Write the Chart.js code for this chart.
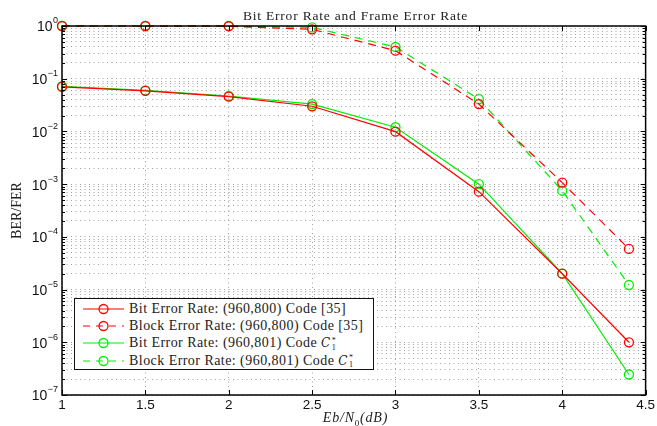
<!DOCTYPE html>
<html>
<head>
<meta charset="utf-8">
<script src="https://cdn.jsdelivr.net/npm/chart.js@4/dist/chart.umd.min.js"></script>
<style>
  body { margin: 0; background: #fff; }
  #wrap { position: relative; width: 657px; height: 426px; }
  .serif { font-family: "Liberation Serif", "DejaVu Serif", serif; color: #222; }
  #title {
    position: absolute; left: 62px; width: 587px; top: 8px; text-align: center;
    font-size: 13.5px; letter-spacing: 0.8px; line-height: 16px;
  }
  #xtitle {
    position: absolute; left: 62px; width: 587px; top: 410px; text-align: center;
    font-size: 14px; letter-spacing: 0.8px; line-height: 16px; font-style: italic;
  }
  #xtitle sub { font-style: normal; font-size: 9px; line-height: 0; }
  #legend {
    position: absolute; left: 74px; top: 298px; width: 300px; height: 72px;
    background: #fff; border: 1.5px solid #111; box-sizing: border-box;
    font-size: 14px; letter-spacing: 0.45px;
    padding-top: 1px;
  }
  .row { height: 17.3px; display: flex; align-items: center; white-space: nowrap; }
  .row svg { margin-left: 8px; margin-right: 5px; flex: none; }
  .cal { font-style: italic; font-family: "DejaVu Serif", serif; font-size: 12px; }
  .ss { display: inline-flex; flex-direction: column; font-size: 8px; line-height: 7px;
        vertical-align: middle; margin-left: 1px; letter-spacing: 0; }
</style>
</head>
<body>
<div id="wrap">
  <canvas id="chart" width="657" height="426"></canvas>
  <div id="title" class="serif">Bit Error Rate and Frame Error Rate</div>
  <div id="xtitle" class="serif">Eb/N<sub>0</sub>(dB)</div>
  <div id="legend" class="serif"></div>
</div>
<script>
const snr = [1, 1.5, 2, 2.5, 3, 3.5, 4, 4.4];
const berRef = [0.07, 0.059, 0.0457, 0.030, 0.0099, 7.2e-4, 2.0e-5, 1.0e-6];
const ferRef = [1, 1, 0.99, 0.865, 0.34, 0.033, 1.07e-3, 5.9e-5];
const berNew = [0.072, 0.06, 0.047, 0.033, 0.012, 1.0e-3, 2.0e-5, 2.45e-7];
const ferNew = [1, 1, 1, 0.94, 0.40, 0.041, 7.5e-4, 1.22e-5];
const xTicks = [1, 1.5, 2, 2.5, 3, 3.5, 4, 4.5];
const decades = [-7, -6, -5, -4, -3, -2, -1, 0];

const code1 = '<span class="cal">C</span><span class="ss"><span>*</span><span>1</span></span>';
const legendLabels = [
  "Bit Error Rate: (960,800) Code [35]",
  "Block Error Rate: (960,800) Code [35]",
  "Bit Error Rate: (960,801) Code " + code1,
  "Block Error Rate: (960,801) Code " + code1
];

const RED = "#ff0000";
const GREEN = "#00ee00";
const colors = [RED, RED, GREEN, GREEN];
const dashed = [false, true, false, true];
const series = [berRef, ferRef, berNew, ferNew];

const datasets = series.map((vals, i) => ({
  label: "s" + i,
  data: snr.map((x, j) => ({ x: x, y: vals[j] })),
  borderColor: colors[i],
  backgroundColor: "rgba(0,0,0,0)",
  borderWidth: 1.2,
  borderDash: dashed[i] ? [8, 6] : [],
  pointRadius: 4.5,
  pointBorderWidth: 1.3,
  pointBorderColor: colors[i],
  pointBackgroundColor: "rgba(0,0,0,0)",
  tension: 0,
  clip: false
}));

// frame, inward ticks and 10^n labels
const framePlugin = {
  id: "frame",
  afterDraw(chart) {
    const { ctx, chartArea: a, scales } = chart;
    ctx.save();
    ctx.strokeStyle = "#000";
    ctx.lineWidth = 1.5;
    ctx.strokeRect(a.left, a.top, a.right - a.left, a.bottom - a.top);
    ctx.lineWidth = 1;
    ctx.beginPath();
    scales.x.ticks.forEach(t => {
      const px = Math.round(scales.x.getPixelForValue(t.value)) + 0.5;
      ctx.moveTo(px, a.bottom); ctx.lineTo(px, a.bottom - 5);
      ctx.moveTo(px, a.top); ctx.lineTo(px, a.top + 5);
    });
    scales.y.ticks.forEach(t => {
      const py = Math.round(scales.y.getPixelForValue(t.value)) + 0.5;
      const len = t.major ? 5 : 3;
      ctx.moveTo(a.left, py); ctx.lineTo(a.left + len, py);
      ctx.moveTo(a.right, py); ctx.lineTo(a.right - len, py);
    });
    ctx.stroke();

    ctx.fillStyle = "#111";
    ctx.textBaseline = "middle";
    ctx.textAlign = "right";
    decades.forEach(e => {
      const py = scales.y.getPixelForValue(Math.pow(10, e));
      const exp = e < 0 ? "\u2212" + (-e) : String(e);
      ctx.font = "9px 'Liberation Sans', Arial, sans-serif";
      const right = a.left - 4;
      ctx.fillText(exp, right, py - 5);
      const w = ctx.measureText(exp).width;
      ctx.font = "14px 'Liberation Sans', Arial, sans-serif";
      ctx.fillText("10", right - w - 0.5, py + 1.5);
    });
    ctx.restore();
  }
};

new Chart(document.getElementById("chart"), {
  type: "line",
  data: { datasets: datasets },
  options: {
    responsive: false,
    animation: false,
    layout: { padding: { left: 0, right: 8, top: 26, bottom: 0 } },
    plugins: {
      legend: { display: false },
      tooltip: { enabled: false },
      title: { display: false }
    },
    scales: {
      x: {
        type: "linear",
        min: 1,
        max: 4.5,
        afterBuildTicks(scale) { scale.ticks = xTicks.map(v => ({ value: v })); },
        afterFit(scale) { scale.height = 31; },
        ticks: {
          color: "#111",
          font: { family: "Liberation Sans, Arial, sans-serif", size: 13.5 },
          padding: 2,
          callback: v => String(v)
        },
        grid: { color: "#8a8a8a", lineWidth: 0.8, drawTicks: false },
        border: { display: false, dash: [1, 3.5] }
      },
      y: {
        type: "logarithmic",
        min: 1e-7,
        max: 1,
        afterBuildTicks(scale) {
          const t = [];
          decades.forEach(e => {
            for (let k = 1; k <= 9; k++) {
              if (e === 0 && k > 1) break;
              t.push({ value: k * Math.pow(10, e), major: k === 1 });
            }
          });
          scale.ticks = t;
        },
        afterFit(scale) { scale.width = 62; },
        ticks: { display: false },
        grid: { color: "#8a8a8a", lineWidth: 0.8, drawTicks: false },
        border: { display: false, dash: [1, 3.5] },
        title: {
          display: true,
          text: "BER/FER",
          color: "#222",
          font: { family: "Liberation Serif, DejaVu Serif, serif", size: 14 },
          padding: { top: 9, bottom: 0 }
        }
      }
    }
  },
  plugins: [framePlugin]
});

// legend overlay
const legendEl = document.getElementById("legend");
legendLabels.forEach((txt, i) => {
  const row = document.createElement("div");
  row.className = "row";
  const dash = dashed[i] ? ' stroke-dasharray="7,6"' : "";
  row.innerHTML =
    '<svg width="41" height="12"><line x1="0" y1="6" x2="41" y2="6" stroke="' + colors[i] +
    '" stroke-width="1.2"' + dash + '/><circle cx="20.5" cy="6" r="4.5" fill="none" stroke="' +
    colors[i] + '" stroke-width="1.3"/></svg><span>' + txt + "</span>";
  legendEl.appendChild(row);
});
</script>
</body>
</html>
